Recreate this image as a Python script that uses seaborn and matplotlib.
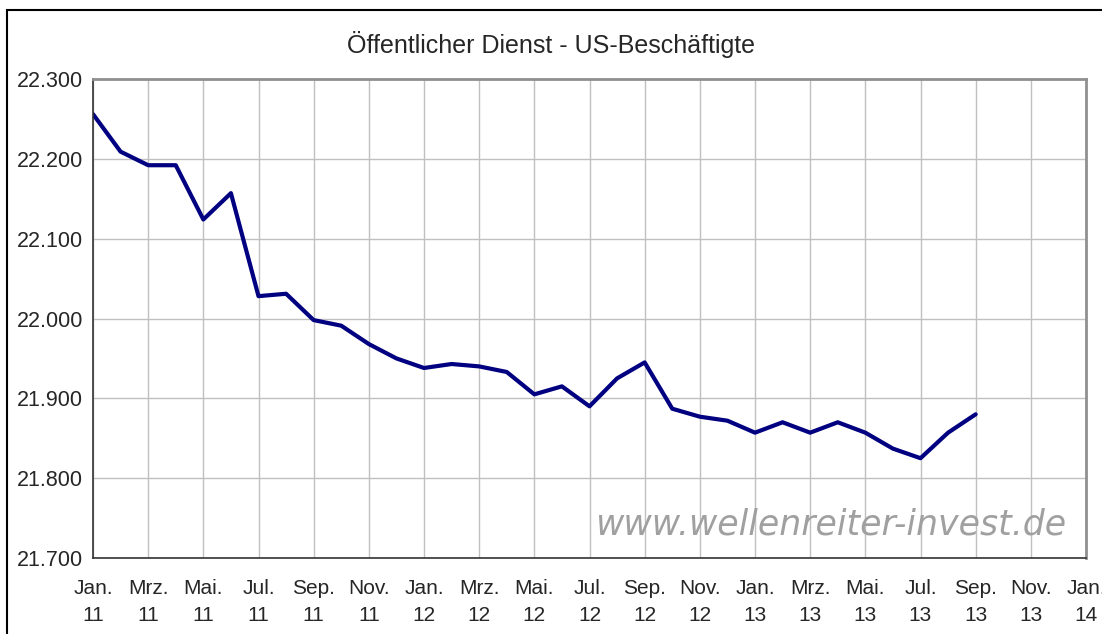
import seaborn as sns
import pandas as pd
import matplotlib.pyplot as plt
from matplotlib.patches import Rectangle

# monthly values Jan 2011 - Sep 2013 (thousands)
months = list(range(33))
employees = [22256, 22209, 22192, 22192, 22124, 22157, 22028, 22031, 21998, 21991,
             21968, 21950, 21938, 21943, 21940, 21933, 21905, 21915, 21890, 21925,
             21945, 21887, 21877, 21872, 21857, 21870, 21857, 21870, 21857, 21837,
             21825, 21857, 21880]
tick_pos = list(range(0, 37, 2))
tick_labels = ['Jan.\n11', 'Mrz.\n11', 'Mai.\n11', 'Jul.\n11', 'Sep.\n11', 'Nov.\n11',
               'Jan.\n12', 'Mrz.\n12', 'Mai.\n12', 'Jul.\n12', 'Sep.\n12', 'Nov.\n12',
               'Jan.\n13', 'Mrz.\n13', 'Mai.\n13', 'Jul.\n13', 'Sep.\n13', 'Nov.\n13',
               'Jan.\n14']
y_ticks = [21700, 21800, 21900, 22000, 22100, 22200, 22300]

df = pd.DataFrame({'Monat': months, 'Beschaeftigte': employees})

sns.set_style('white')
plt.rcParams['font.family'] = ['Liberation Sans', 'DejaVu Sans']

fig = plt.figure(figsize=(11.02, 6.34), dpi=100)
ax = fig.add_axes([93 / 1102, 1 - 558 / 634, (1086 - 93) / 1102, (558 - 79) / 634])

sns.lineplot(data=df, x='Monat', y='Beschaeftigte', ax=ax, color='#000080', linewidth=3)

ax.set_xlim(0, 36)
ax.set_ylim(21700, 22300)
ax.set_xticks(tick_pos)
ax.set_xticklabels(tick_labels, fontsize=15, linespacing=1.55)
ax.set_yticks(y_ticks)
ax.set_yticklabels([f'{v / 1000:.3f}' for v in y_ticks], fontsize=15.5)
ax.set_xlabel('')
ax.set_ylabel('')
ax.grid(True, color='#c0c0c0', linewidth=1)
ax.tick_params(axis='both', direction='out', length=6, width=1, color='#333333')
ax.tick_params(axis='y', pad=1)
ax.tick_params(axis='x', pad=9)

for side in ['left', 'bottom']:
    ax.spines[side].set_color('#333333')
    ax.spines[side].set_linewidth(1.2)
for side in ['top', 'right']:
    ax.spines[side].set_color('#909090')
    ax.spines[side].set_linewidth(2)

ax.text(0.98, 0.035, 'www.wellenreiter-invest.de', transform=ax.transAxes,
        ha='right', va='bottom', fontsize=25, style='italic', color='#a0a0a0',
        family='DejaVu Sans')

fig.text(0.5, 1 - 45 / 634, 'Öffentlicher Dienst - US-Beschäftigte',
         ha='center', va='center', fontsize=18)

# chart frame (only left and top visible)
fig.patches.append(Rectangle((7 / 1102, -0.05), 1.2, 1 - 10 / 634 + 0.05,
                             transform=fig.transFigure, fill=False,
                             edgecolor='black', linewidth=1.5))

fig.savefig('out.png', dpi=100)
